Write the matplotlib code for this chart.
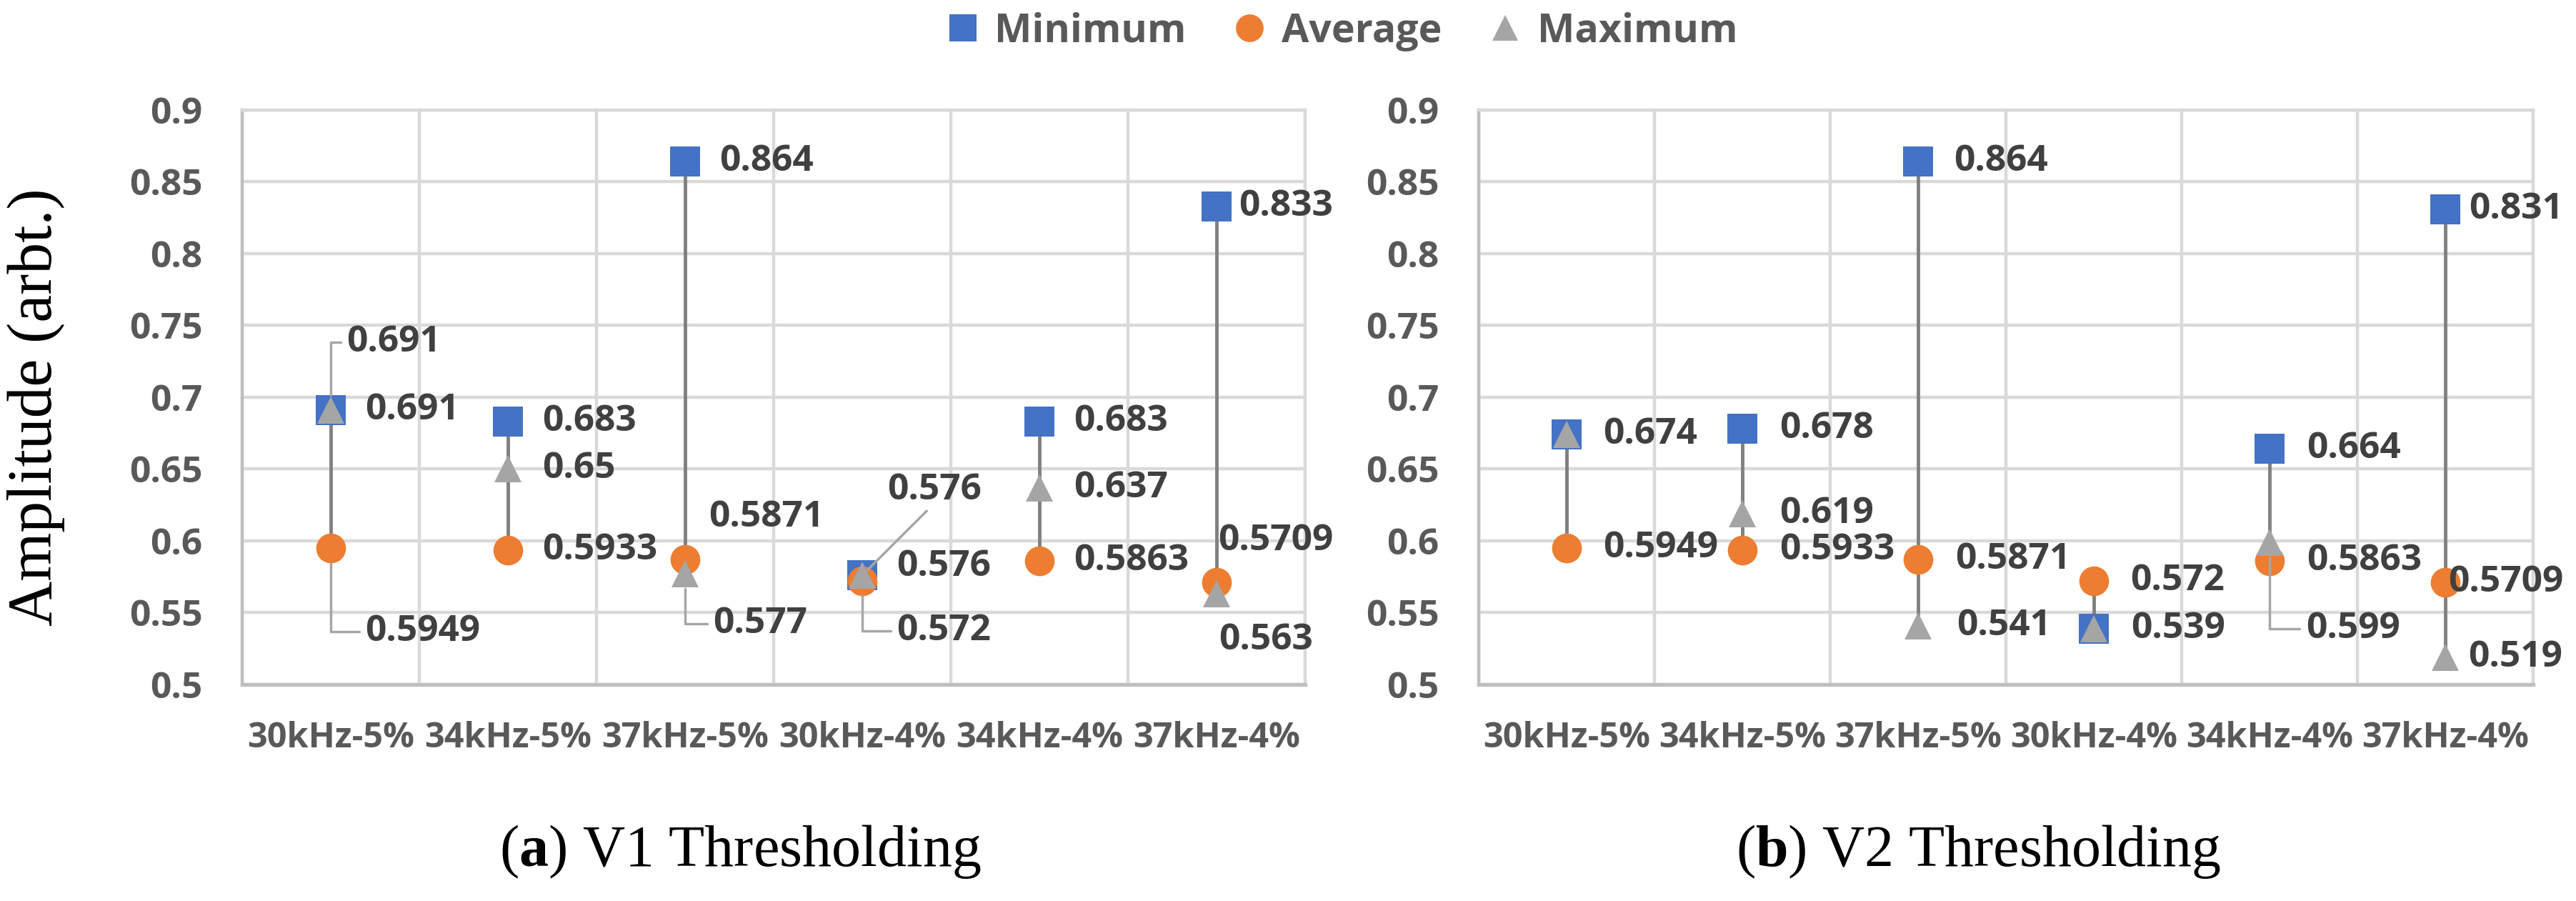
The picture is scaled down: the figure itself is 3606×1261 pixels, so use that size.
import numpy as np
import matplotlib.pyplot as plt

# Excel-style min / average / max chart, two panels

categories = ['30kHz-5%', '34kHz-5%', '37kHz-5%', '30kHz-4%', '34kHz-4%', '37kHz-4%']

v1_min = [0.691, 0.683, 0.864, 0.576, 0.683, 0.833]
v1_avg = [0.5949, 0.5933, 0.5871, 0.572, 0.5863, 0.5709]
v1_max = [0.691, 0.65, 0.577, 0.576, 0.637, 0.563]

v2_min = [0.674, 0.678, 0.864, 0.539, 0.664, 0.831]
v2_avg = [0.5949, 0.5933, 0.5871, 0.572, 0.5863, 0.5709]
v2_max = [0.674, 0.619, 0.541, 0.539, 0.599, 0.519]

y_ticks = [0.5, 0.55, 0.6, 0.65, 0.7, 0.75, 0.8, 0.85, 0.9]
y_tick_labels = ['0.5', '0.55', '0.6', '0.65', '0.7', '0.75', '0.8', '0.85', '0.9']

# data label placement: (dx px, dy px, leader) ; None -> label hidden
v1_min_lab = [(48, 0, None), (48, 0, None), (48, 0, None), (48, 12, None), (48, 0, None), (31, 0, None)]
v1_avg_lab = [(48, -117, 'angle'), (48, 0, None), (33, 59, None), (48, -70, 'angle'), (48, 0, None), (2, 58, None)]
v1_max_lab = [(22, 95, 'angle'), (48, 0, None), (39, -70, 'angle'), (35, 119, 'line'), (48, 0, None), (3, -65, None)]

v2_min_lab = [(51, 0, None), (52, 0, None), (50, 0, None), (52, 0, None), (52, 0, None), (33, 0, None)]
v2_avg_lab = [(51, 0, None), (52, 0, None), (52, 0, None), (51, 0, None), (52, 0, None), (4, 0, None)]
v2_max_lab = [None, (52, 0, None), (54, 0, None), None, (51, -121, 'angle'), (32, 0, None)]

plt.rcParams['font.family'] = ['Open Sans', 'DejaVu Sans']
plt.rcParams['font.weight'] = 'bold'
plt.rcParams['mathtext.fontset'] = 'custom'
plt.rcParams['mathtext.rm'] = 'Liberation Serif'
plt.rcParams['mathtext.bf'] = 'Liberation Serif:bold'

blue = '#4472C4'
orange = '#ED7D31'
grey = '#A5A5A5'
fs = 37


def add_labels(ax, x, vals, labs):
    for xi, v, lab in zip(x, vals, labs):
        if lab is None:
            continue
        dx, dy, leader = lab
        txt = str(v)
        if leader == 'angle':
            ap = dict(arrowstyle='-', color='#A6A6A6', lw=2.5, relpos=(0, 0.5),
                      patchA=None, shrinkA=6, shrinkB=15,
                      connectionstyle='angle,angleA=0,angleB=90,rad=0')
        elif leader == 'line':
            ap = dict(arrowstyle='-', color='#A6A6A6', lw=2.5, relpos=(0.45, 0),
                      patchA=None, shrinkA=4, shrinkB=8)
        else:
            ap = None
        ax.annotate(txt, xy=(xi, v), xytext=(dx, dy), textcoords='offset pixels',
                    ha='left', va='center', fontsize=fs, color='#404040',
                    arrowprops=ap, annotation_clip=False, zorder=6)


def draw_panel(ax, vmin, vavg, vmax, labs):
    x = np.arange(len(categories)) + 0.5
    lo = np.minimum(np.minimum(vmin, vavg), vmax)
    hi = np.maximum(np.maximum(vmin, vavg), vmax)
    ax.vlines(x, lo, hi, color='#808080', lw=3.5, zorder=2)
    h1, = ax.plot(x, vmin, ls='none', marker='s', ms=30, color=blue, mew=0, zorder=3, label='Minimum')
    h2, = ax.plot(x, vavg, ls='none', marker='o', ms=30, color=orange, mew=0, zorder=4, label='Average')
    h3, = ax.plot(x, vmax, ls='none', marker='^', ms=28, color=grey, mew=0, zorder=5, label='Maximum')
    add_labels(ax, x, vmin, labs[0])
    add_labels(ax, x, vavg, labs[1])
    add_labels(ax, x, vmax, labs[2])

    ax.set_xlim(0, 6)
    ax.set_ylim(0.5, 0.9)
    ax.set_xticks(x)
    ax.set_xticklabels(categories)
    ax.set_xticks(np.arange(len(categories) + 1), minor=True)
    ax.set_yticks(y_ticks)
    ax.set_yticklabels(y_tick_labels)
    ax.set_axisbelow(True)
    ax.grid(axis='y', which='major', color='#D9D9D9', lw=3.2)
    ax.grid(axis='x', which='minor', color='#D9D9D9', lw=3.2)
    ax.grid(axis='x', which='major', visible=False)
    ax.tick_params(which='both', length=0)
    ax.tick_params(axis='y', pad=40, labelsize=fs, labelcolor='#595959')
    ax.tick_params(axis='x', pad=37, labelsize=35, labelcolor='#595959')
    for s in ['top', 'right']:
        ax.spines[s].set_color('#D9D9D9')
        ax.spines[s].set_linewidth(3.2)
    ax.spines['left'].set_color('#BFBFBF')
    ax.spines['left'].set_linewidth(3.2)
    ax.spines['bottom'].set_color('#BFBFBF')
    ax.spines['bottom'].set_linewidth(3.8)
    return [h1, h2, h3]


fig = plt.figure(figsize=(36.06, 12.61), dpi=100)
ax1 = fig.add_axes([0.0940, 0.2403, 0.4126, 0.6376])
ax2 = fig.add_axes([0.5740, 0.2403, 0.4093, 0.6376])

handles = draw_panel(ax1, v1_min, v1_avg, v1_max, [v1_min_lab, v1_avg_lab, v1_max_lab])
draw_panel(ax2, v2_min, v2_avg, v2_max, [v2_min_lab, v2_avg_lab, v2_max_lab])

fig.legend(handles=handles, loc='center', bbox_to_anchor=(0.521, 0.965), ncol=3,
           frameon=False, fontsize=40, handlelength=0.8, handletextpad=0.4,
           columnspacing=1.2, markerscale=0.93, labelcolor='#595959')

serif = {'family': 'Liberation Serif', 'size': 59, 'color': 'black', 'weight': 'normal'}
fig.text(0.0139, 0.548, 'Amplitude (arbt.)', rotation=90, ha='center', va='center',
         fontdict=dict(serif, size=63))
fig.text(0.2873, 0.055, r'($\mathbf{a}$) V1 Thresholding', ha='center', va='center', fontdict=serif)
fig.text(0.768, 0.055, r'($\mathbf{b}$) V2 Thresholding', ha='center', va='center', fontdict=serif)

fig.savefig('out.png', dpi=100)
